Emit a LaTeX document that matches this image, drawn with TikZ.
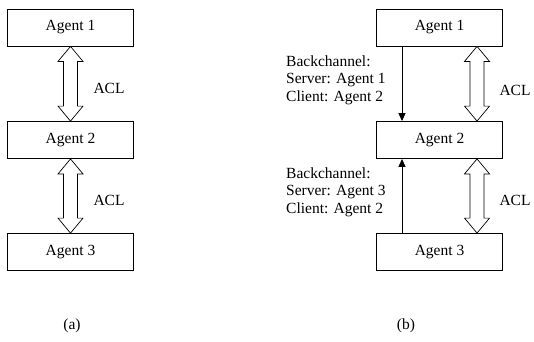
\documentclass[tikz,border=0pt]{standalone}
\usepackage{fontspec}
\setmainfont{Liberation Serif}
\usetikzlibrary{calc,arrows.meta}
\begin{document}
\begin{tikzpicture}[x=1pt,y=-1pt,
  box/.style={draw, line width=0.8pt, minimum width=126pt, minimum height=37pt, inner sep=0pt, font=\fontsize{15.5}{17}\selectfont},
  lbl/.style={font=\fontsize{15.5}{17.5}\selectfont, inner sep=0pt},
  thin/.style={line width=1pt, -{Triangle[length=8pt,width=7pt]}},
  dbl/.style={draw, line width=0.7pt, fill=white}]
\useasboundingbox (0,0) rectangle (534,341);
% left panel
\node[box] (A1) at (70.5,27.5) {Agent 1};
\node[box] (A2) at (70.5,140) {Agent 2};
\node[box] (A3) at (70.5,252) {Agent 3};
% right panel
\node[box] (B1) at (439.5,27.5) {Agent 1};
\node[box] (B2) at (439.5,140) {Agent 2};
\node[box] (B3) at (439.5,252) {Agent 3};
\newcommand{\aclarrow}[2]{%
  \path[dbl] let \p1=(#1), \p2=(#2) in
    (\x1,\y1) -- (\x1+12.5pt,\y1-15pt) -- (\x1+7pt,\y1-15pt) -- (\x1+7pt,\y2+15pt)
    -- (\x1+12.5pt,\y2+15pt) -- (\x1,\y2) -- (\x1-12.5pt,\y2+15pt) -- (\x1-7pt,\y2+15pt)
    -- (\x1-7pt,\y1-15pt) -- (\x1-12.5pt,\y1-15pt) -- cycle;}
\aclarrow{A1.south}{A2.north}
\aclarrow{A2.south}{A3.north}
\coordinate (b1r) at ($(B1.south)+(37.5,0)$);
\coordinate (b2rt) at ($(B2.north)+(37.5,0)$);
\coordinate (b2rb) at ($(B2.south)+(37.5,0)$);
\coordinate (b3r) at ($(B3.north)+(37.5,0)$);
\aclarrow{b1r}{b2rt}
\aclarrow{b2rb}{b3r}
\node[lbl] (acl1) at (109,88) {ACL};
\node[lbl] (acl2) at (109,200) {ACL};
\node[lbl] (acl3) at (515,90) {ACL};
\node[lbl] (acl4) at (515,200) {ACL};
% backchannels
\draw[thin] ($(B1.south)+(-37.5,0)$) -- ($(B2.north)+(-37.5,0)$);
\draw[thin] ($(B3.north)+(-37.5,0)$) -- ($(B2.south)+(-37.5,0)$);
\node[lbl, align=left, anchor=west] (bc1) at (286,80) {Backchannel:\\Server: Agent 1\\Client: Agent 2};
\node[lbl, align=left, anchor=west] (bc2) at (286,192) {Backchannel:\\Server: Agent 3\\Client: Agent 2};
% captions
\node[lbl] (capa) at (72,326) {(a)};
\node[lbl] (capb) at (406,326) {(b)};
\end{tikzpicture}
\end{document}
